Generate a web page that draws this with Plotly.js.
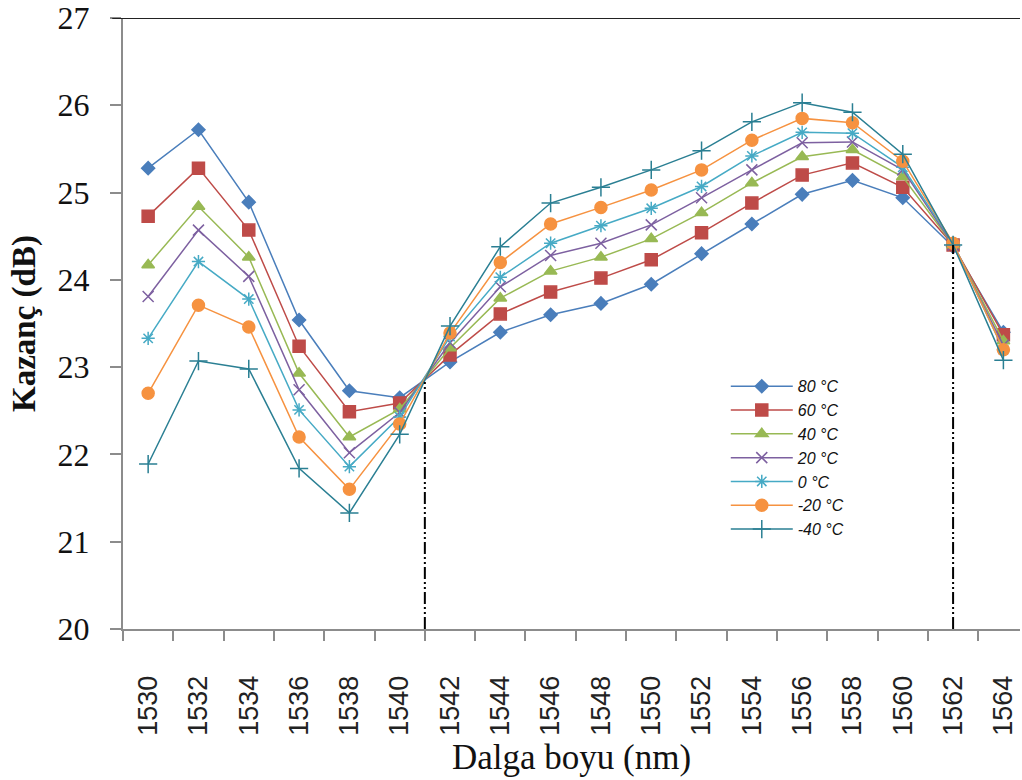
<!DOCTYPE html>
<html>
<head>
<meta charset="utf-8">
<script src="https://cdn.plot.ly/plotly-3.0.1.min.js"></script>
<style>html,body{margin:0;padding:0;background:#fff;}#chart{width:1022px;height:780px;}</style>
</head>
<body>
<div id="chart"></div>
<script>
// Wavelength categories (nm)
const wavelengths = [1530,1532,1534,1536,1538,1540,1542,1544,1546,1548,1550,1552,1554,1556,1558,1560,1562,1564];
// Series names
const seriesNames = ["80 °C","60 °C","40 °C","20 °C","0 °C","-20 °C","-40 °C"];
// Gain values (dB) per series
const gain80  = [25.28,25.72,24.89,23.54,22.73,22.65,23.06,23.40,23.60,23.73,23.95,24.30,24.64,24.98,25.14,24.94,24.38,23.40];
const gain60  = [24.73,25.28,24.57,23.24,22.49,22.59,23.14,23.61,23.86,24.02,24.23,24.54,24.88,25.20,25.34,25.06,24.40,23.37];
const gain40  = [24.17,24.84,24.26,22.93,22.20,22.52,23.22,23.79,24.10,24.26,24.47,24.77,25.11,25.41,25.49,25.18,24.40,23.30];
const gain20  = [23.81,24.57,24.04,22.74,22.02,22.48,23.28,23.92,24.28,24.42,24.63,24.94,25.26,25.57,25.58,25.26,24.40,23.25];
const gain0   = [23.33,24.21,23.78,22.51,21.86,22.43,23.35,24.03,24.42,24.62,24.82,25.07,25.42,25.69,25.68,25.29,24.42,23.20];
const gainM20 = [22.70,23.71,23.46,22.20,21.60,22.35,23.39,24.20,24.64,24.83,25.03,25.26,25.60,25.85,25.80,25.36,24.42,23.20];
const gainM40 = [21.89,23.07,22.98,21.84,21.33,22.23,23.47,24.38,24.88,25.06,25.26,25.48,25.81,26.03,25.92,25.44,24.40,23.08];
// Y-axis ticks
const yTicks = [20,21,22,23,24,25,26,27];
// Reference (dash-dot) markers: wavelength and top gain
const refX = [1541, 1562];
const refTop = [22.85, 24.40];

const allGains = [gain80,gain60,gain40,gain20,gain0,gainM20,gainM40];
const colors = ["#4A7EBB","#BE4B48","#98B954","#7D60A0","#46AAC5","#F69240","#2A7F93"];
const symbols = ["diamond","square","triangle-up","x-thin-open","asterisk-open","circle","cross-thin-open"];
const sizes = [10,12,11,11,11,12,13];

const traces = [];
allGains.forEach((g,i)=>{
  traces.push({
    type:"scatter", mode:"lines+markers", name:seriesNames[i],
    x:wavelengths, y:g,
    line:{color:colors[i], width:1.5},
    marker:{symbol:symbols[i], size:sizes[i], color:colors[i], line:{color:colors[i], width:1.5}}
  });
});
refX.forEach((xv,i)=>{
  traces.push({
    type:"scatter", mode:"lines", showlegend:false, hoverinfo:"skip",
    x:[xv,xv], y:[yTicks[0], refTop[i]],
    line:{color:"#000", width:2, dash:"12px,3px,2px,3px,2px,3px"}
  });
});

const layout = {
  width:1022, height:780,
  margin:{l:123, r:2, t:18, b:151},
  paper_bgcolor:"#fff", plot_bgcolor:"#fff",
  showlegend:true,
  legend:{x:0.672, y:0.425, xanchor:"left", yanchor:"top", bgcolor:"rgba(0,0,0,0)",
    font:{family:"Liberation Sans, Arial, sans-serif", size:16, color:"#111", style:"italic"},
    itemwidth:62, tracegroupgap:0},
  xaxis:{
    range:[1529, 1564.66],
    tickvals:wavelengths, ticktext:wavelengths.map(String),
    tickangle:-90, ticks:"", showgrid:false, zeroline:false,
    showline:true, linecolor:"#8c8c8c", linewidth:2,
    ticklabelstandoff:34,
    tickfont:{family:"Liberation Sans, Arial, sans-serif", size:27, color:"#222"},
    minor:{tick0:1529, dtick:2, ticks:"outside", ticklen:10, tickwidth:2, tickcolor:"#8c8c8c", showgrid:false},
    title:{text:"Dalga boyu (nm)", font:{family:"Liberation Serif, Times New Roman, serif", size:35, color:"#111"}, standoff:10}
  },
  yaxis:{
    range:[20,27], tickvals:yTicks, ticks:"outside", ticklen:11, tickwidth:2, tickcolor:"#8c8c8c",
    showgrid:false, zeroline:false, showline:true, linecolor:"#8c8c8c", linewidth:2,
    ticklabelstandoff:14,
    tickfont:{family:"Liberation Serif, Times New Roman, serif", size:32, color:"#111"},
    title:{text:"<b>Kazanç (dB)</b>", font:{family:"Liberation Serif, Times New Roman, serif", size:33, color:"#111"}, standoff:12}
  },
  shapes:[
    {type:"line", xref:"paper", yref:"y", x0:-0.012, x1:1, y0:27, y1:27, line:{color:"#222", width:2}}
  ]
};

Plotly.newPlot("chart", traces, layout, {displayModeBar:false, staticPlot:true});
</script>
</body>
</html>
